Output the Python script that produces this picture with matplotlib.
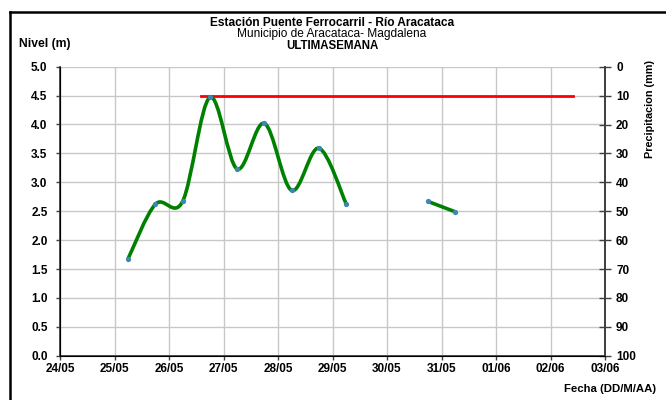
#!/usr/bin/env python3
"""Nivel del rio Aracataca (Estacion Puente Ferrocarril), ultima semana."""

from datetime import datetime

import matplotlib.dates as mdates
import matplotlib.pyplot as plt
import numpy as np
from matplotlib.lines import Line2D
from matplotlib.patches import PathPatch
from matplotlib.path import Path

plt.rcParams["font.family"] = ["Liberation Sans", "DejaVu Sans"]

# ---------------------------------------------------------------------------
# Data
# ---------------------------------------------------------------------------
LEVEL_TIMES = [
    "2023-05-25 06:00", "2023-05-25 18:00", "2023-05-26 06:00",
    "2023-05-26 18:00", "2023-05-27 06:00", "2023-05-27 18:00",
    "2023-05-28 06:00", "2023-05-28 18:00", "2023-05-29 06:00",
    "2023-05-30 18:00", "2023-05-31 06:00",
]
LEVEL_VALUES = [1.68, 2.62, 2.67, 4.47, 3.23, 4.02, 2.86, 3.59, 2.63, 2.67, 2.49]
# segments of the level series (gap between 29/05 and 30/05)
LEVEL_SEGMENTS = [(0, 9), (9, 11)]

THRESHOLD_TIMES = ["2023-05-26 14:00", "2023-06-02 10:00"]
THRESHOLD_VALUES = [4.5, 4.5]

X_START = "2023-05-24"
X_END = "2023-06-03"
LEVEL_TICKS = np.arange(0, 5.01, 0.5)
PRECIP_TICKS = np.arange(0, 101, 10)

TITLE_1 = "Estación Puente Ferrocarril - Río Aracataca"
TITLE_2 = "Municipio de Aracataca- Magdalena"
TITLE_3 = "ULTIMASEMANA"

GREEN = "#008000"
RED = "#ff0000"
MARKER = "#3f86b0"
GRID = "#c8c8c8"
SPINE = "#404040"
TICK_SIZE = 8.5


def to_num(stamps):
    return mdates.date2num([datetime.strptime(s, "%Y-%m-%d %H:%M") for s in stamps])


def smooth_path(x, y):
    """Excel-like smoothed line: cubic Bezier with 1/6 tension."""
    pts = np.column_stack([x, y])
    n = len(pts)
    verts = [pts[0]]
    codes = [Path.MOVETO]
    for i in range(n - 1):
        p0 = pts[max(i - 1, 0)]
        p1 = pts[i]
        p2 = pts[i + 1]
        p3 = pts[min(i + 2, n - 1)]
        c1 = p1 + (p2 - p0) / 6.0
        c2 = p2 - (p3 - p1) / 6.0
        verts += [c1, c2, p2]
        codes += [Path.CURVE4] * 3
    return Path(verts, codes)


def main() -> None:
    fig = plt.figure(figsize=(6.66, 4.0), dpi=100)
    ax = fig.add_axes([60 / 666, 1 - 355.7 / 400, 545 / 666, 289 / 400])

    x_start = mdates.date2num(datetime.strptime(X_START, "%Y-%m-%d"))
    x_end = mdates.date2num(datetime.strptime(X_END, "%Y-%m-%d"))
    ax.set_xlim(x_start, x_end)
    ax.set_ylim(0, 5)

    # threshold line
    ax.plot(to_num(THRESHOLD_TIMES), THRESHOLD_VALUES, color=RED, lw=2.0, zorder=3)

    # level series, smoothed
    lx = to_num(LEVEL_TIMES)
    ly = np.array(LEVEL_VALUES)
    for a, b in LEVEL_SEGMENTS:
        path = smooth_path(lx[a:b], ly[a:b])
        ax.add_patch(PathPatch(path, facecolor="none", edgecolor=GREEN, lw=2.6, zorder=4))
    ax.plot(lx, ly, linestyle="none", marker="o", ms=3.8, color=MARKER,
            markeredgewidth=0, zorder=5)

    ax.xaxis.set_major_locator(mdates.DayLocator())
    ax.xaxis.set_major_formatter(mdates.DateFormatter("%d/%m"))
    ax.set_yticks(LEVEL_TICKS)
    ax.yaxis.set_major_formatter(plt.FormatStrFormatter("%.1f"))
    ax.grid(True, color=GRID, lw=1.0)
    ax.set_axisbelow(True)

    ax.spines["top"].set_visible(False)
    for side in ("left", "bottom", "right"):
        ax.spines[side].set_color(SPINE)
        ax.spines[side].set_linewidth(1.3)
    ax.tick_params(axis="y", length=3, width=1, color=SPINE, pad=6,
                   labelsize=TICK_SIZE)
    ax.tick_params(axis="x", length=3, width=1, color=SPINE, pad=2,
                   labelsize=TICK_SIZE)
    for lab in ax.get_xticklabels() + ax.get_yticklabels():
        lab.set_fontweight("bold")

    # precipitation axis (inverted)
    ax2 = ax.twinx()
    ax2.set_ylim(100, 0)
    ax2.set_yticks(PRECIP_TICKS)
    ax2.spines["top"].set_visible(False)
    ax2.spines["right"].set_color(SPINE)
    ax2.spines["right"].set_linewidth(1.3)
    ax2.tick_params(axis="y", direction="inout", length=8, width=1, color=SPINE,
                    pad=4, labelsize=TICK_SIZE)
    for lab in ax2.get_yticklabels():
        lab.set_fontweight("bold")

    # texts
    fig.text(332 / 666, 1 - 22.5 / 400, TITLE_1, ha="center", va="center",
             fontsize=8.6, fontweight="bold")
    fig.text(332 / 666, 1 - 34.5 / 400, TITLE_2, ha="center", va="center",
             fontsize=8.6)
    fig.text(332 / 666, 1 - 46 / 400, TITLE_3, ha="center", va="center",
             fontsize=8.3, fontweight="bold")
    fig.text(19 / 666, 1 - 44 / 400, "Nivel (m)", ha="left", va="center",
             fontsize=8.7, fontweight="bold")
    fig.text(650 / 666, 1 - 60 / 400, "Precipitacion (mm)", ha="center",
             va="top", rotation=90, fontsize=7.8, fontweight="bold")
    fig.text(656 / 666, 1 - 389 / 400, "Fecha (DD/M/AA)", ha="right",
             va="center", fontsize=8.2, fontweight="bold")

    # chart border (left and top edges visible)
    fig.add_artist(Line2D([9.5 / 666, 9.5 / 666], [0, 1 - 12 / 400],
                          transform=fig.transFigure, color="black", lw=1.8))
    fig.add_artist(Line2D([9.5 / 666, 1], [1 - 12 / 400, 1 - 12 / 400],
                          transform=fig.transFigure, color="black", lw=1.8))

    fig.savefig("out.png", dpi=100)
    plt.close(fig)


if __name__ == "__main__":
    main()
